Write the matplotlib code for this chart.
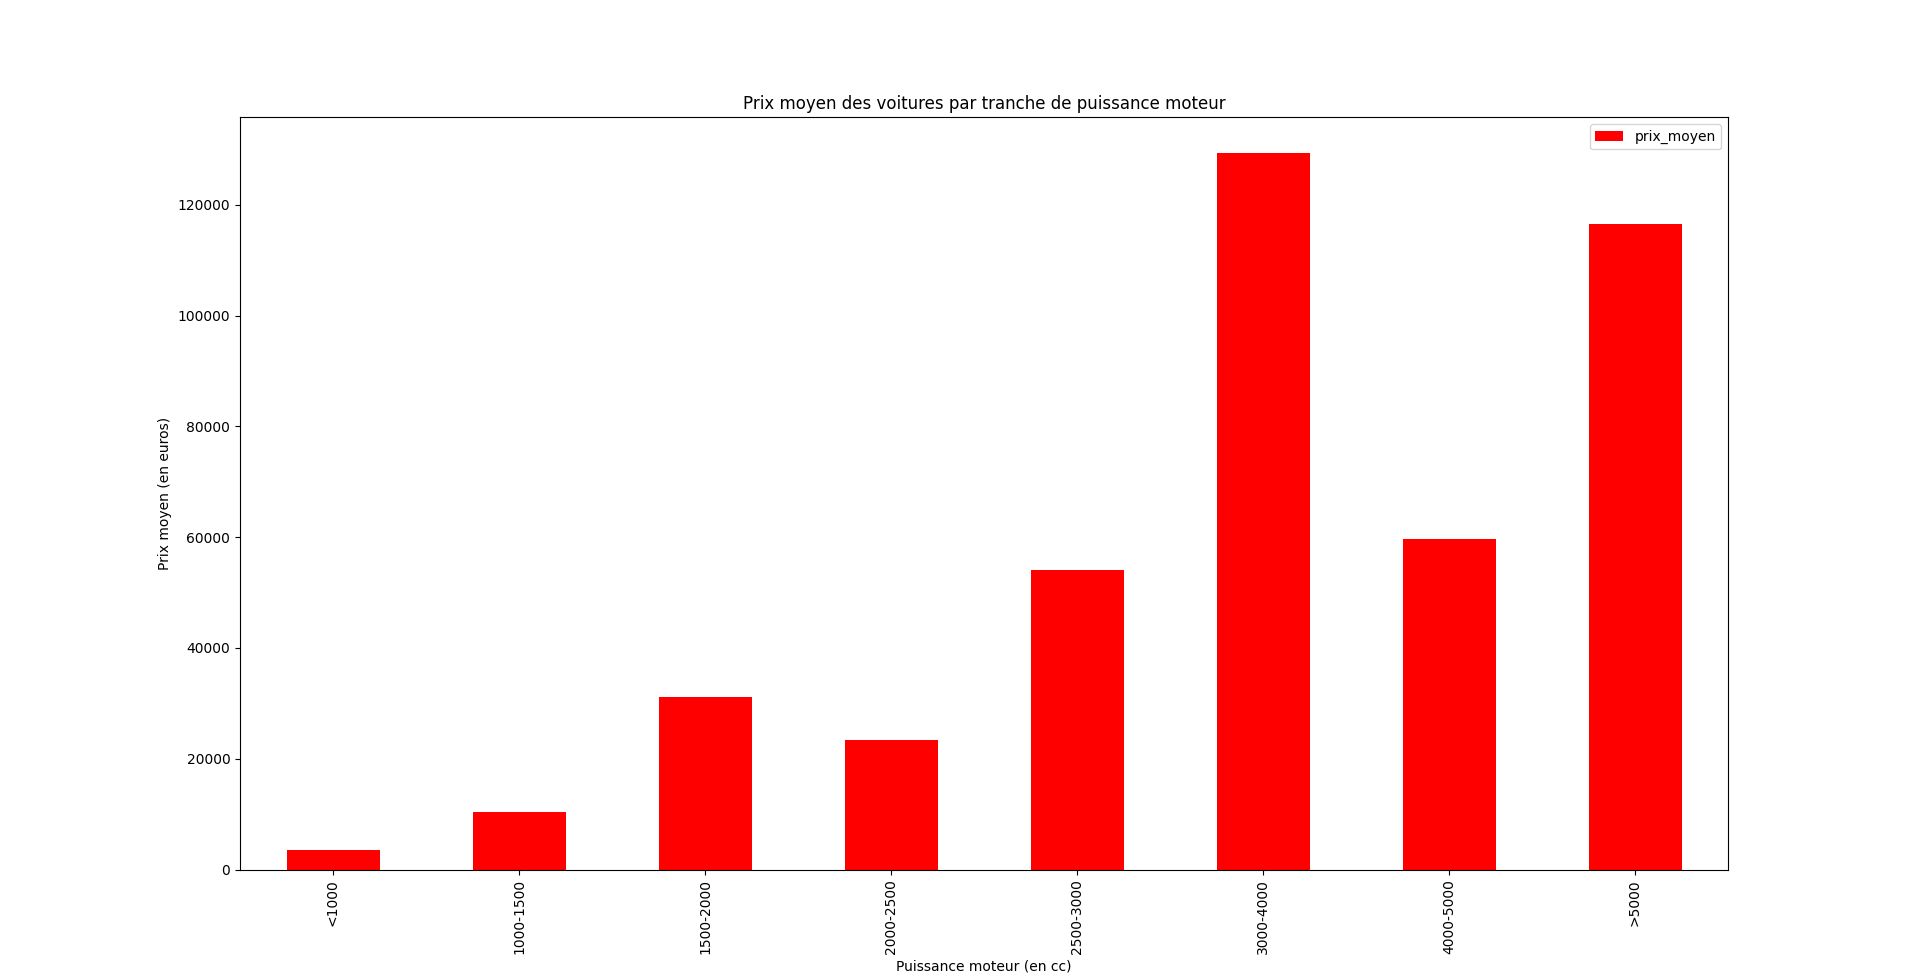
import matplotlib
matplotlib.use("Agg")
import matplotlib.pyplot as plt
import pandas as pd

categories = ["<1000", "1000-1500", "1500-2000", "2000-2500", "2500-3000", "3000-4000", "4000-5000", ">5000"]
prix_moyen = [3550, 10400, 31150, 23400, 54100, 129330, 59700, 116500]

df = pd.DataFrame({"prix_moyen": prix_moyen}, index=categories)

fig, ax = plt.subplots(figsize=(19.2, 9.77), dpi=100)
df.plot(kind="bar", color="red", ax=ax)
ax.set_title("Prix moyen des voitures par tranche de puissance moteur")
ax.set_xlabel("Puissance moteur (en cc)")
ax.set_ylabel("Prix moyen (en euros)")
fig.savefig("out.png", dpi=100)
